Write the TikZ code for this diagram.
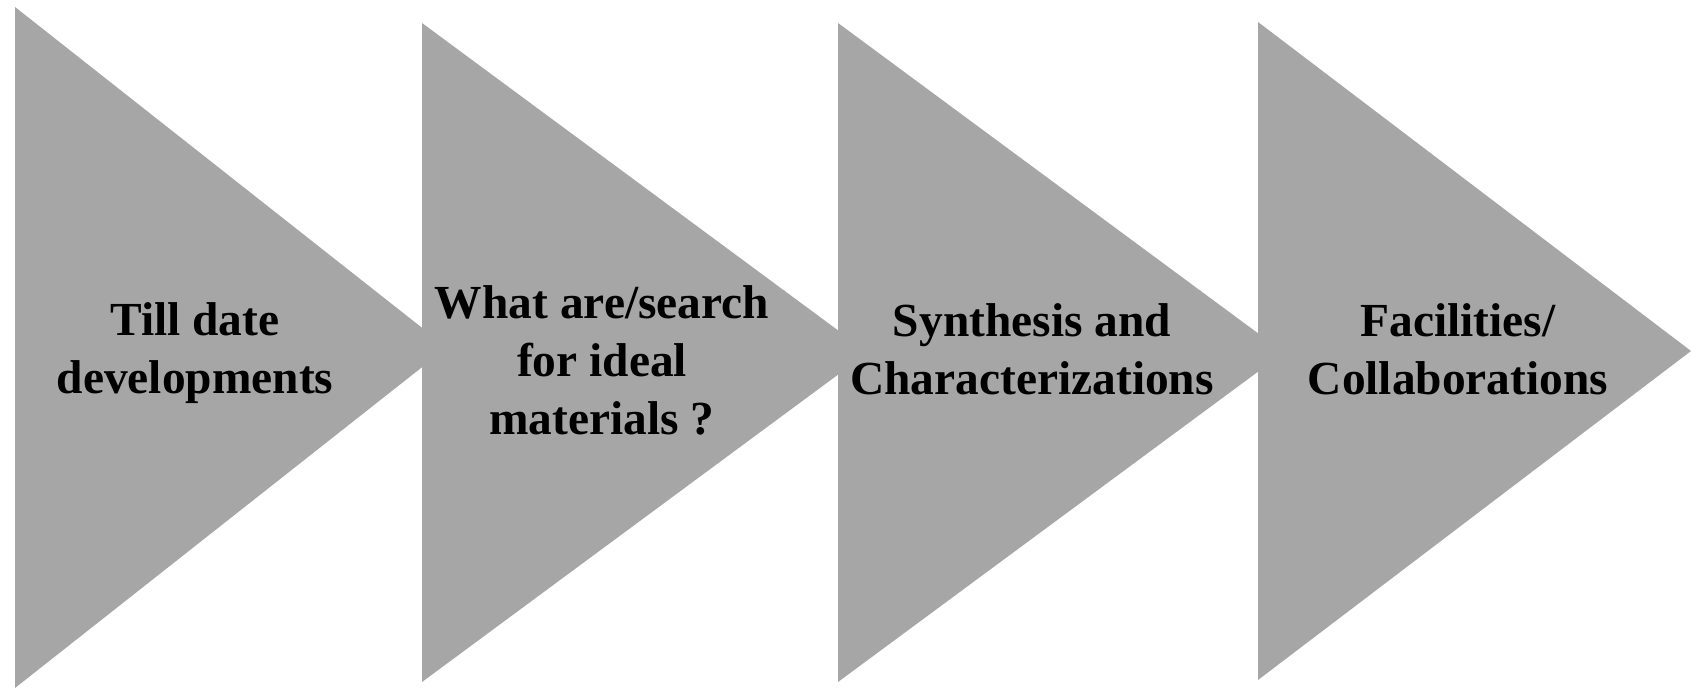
\documentclass[tikz,border=0pt]{standalone}
\usepackage{fontspec}
\setmainfont{Liberation Serif}
\usepackage{tikz}
\definecolor{stepgray}{RGB}{166, 166, 166}
\tikzset{
    chevron/.style={fill=stepgray, draw=none},
    steplabel/.style={align=center, font=\bfseries\fontsize{27}{33}\selectfont, inner sep=0pt}
}

\begin{document}
\begin{tikzpicture}[x=0.02cm, y=-0.02cm]
    \useasboundingbox (0,0) rectangle (1691,688);
    \fill[chevron] (15,7) -- (447,347.5) -- (15,688) -- cycle;
    \fill[chevron] (422,23) -- (868,352.5) -- (422,682) -- cycle;
    \fill[chevron] (838,23) -- (1284,352.5) -- (838,682) -- cycle;
    \fill[chevron] (1258,22) -- (1691,351) -- (1258,680) -- cycle;
    \node[steplabel] (tilldate) at (195,353) {Till date\\developments};
    \node[steplabel] (search) at (602,360) {What are/search\\for ideal\\materials ?};
    \node[steplabel] (synthesis) at (1032,349) {Synthesis and\\Characterizations};
    \node[steplabel] (facilities) at (1458,349) {Facilities/\\Collaborations};
\end{tikzpicture}
\end{document}
